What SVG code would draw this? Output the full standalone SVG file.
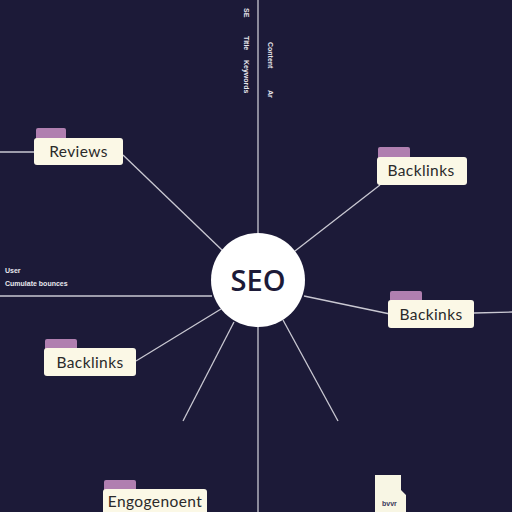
<svg xmlns="http://www.w3.org/2000/svg" width="512" height="512" viewBox="0 0 512 512">
<style>
.ln{stroke:#c9c8d2;stroke-width:1.3;fill:none}
.box{fill:#fbf8e6}
.tab{fill:#b07fb0}
.lbl{font-family:"Lato","Liberation Sans",sans-serif;font-size:15.5px;fill:#2a2a2a;text-anchor:middle;letter-spacing:0.4px}
.tiny{font-family:"Liberation Sans",sans-serif;font-size:7px;font-weight:bold;fill:#e8e8ee}
</style>
<rect width="512" height="512" fill="#1c1a38"/>
<g id="connectors">
<line class="ln" x1="258" y1="0" x2="258" y2="512"/>
<line class="ln" x1="0" y1="296" x2="212" y2="296"/>
<line class="ln" x1="0" y1="152" x2="34" y2="152"/>
<line class="ln" x1="123" y1="155" x2="223" y2="251"/>
<line class="ln" x1="380" y1="185" x2="295" y2="251"/>
<line class="ln" x1="304" y1="296" x2="390" y2="314"/>
<line class="ln" x1="474" y1="313" x2="512" y2="312"/>
<line class="ln" x1="136" y1="361" x2="221" y2="309"/>
<line class="ln" x1="183" y1="421" x2="234" y2="322"/>
<line class="ln" x1="338" y1="421" x2="283" y2="320"/>
</g>
<g id="top-notes">
<text class="tiny" transform="translate(244,8) rotate(90)">SE</text>
<text class="tiny" transform="translate(244,36) rotate(90)">Title</text>
<text class="tiny" transform="translate(244,60) rotate(90)">Keywords</text>
<text class="tiny" transform="translate(268,42) rotate(90)">Content</text>
<text class="tiny" transform="translate(268,90) rotate(90)">Ar</text>
</g>
<g id="user-note">
<text class="tiny" x="5" y="273" font-size="8">User</text>
<text class="tiny" x="5" y="286">Cumulate bounces</text>
</g>
<g id="seo">
<circle cx="258" cy="280" r="47" fill="#ffffff"/>
<text x="258" y="291" font-family="'Open Sans','Liberation Sans',sans-serif" font-size="29" font-weight="600" fill="#1c1a38" text-anchor="middle">SEO</text>
</g>
<g id="reviews">
<rect class="tab" x="36" y="128" width="30" height="13" rx="2"/>
<rect class="box" x="34" y="138" width="89" height="27" rx="3"/>
<text class="lbl" x="78.5" y="157">Reviews</text>
</g>
<g id="backlinks-top">
<rect class="tab" x="378" y="147" width="32" height="13" rx="2"/>
<rect class="box" x="377" y="157" width="90" height="28" rx="3"/>
<text class="lbl" x="421" y="176">Backlinks</text>
</g>
<g id="backinks-right">
<rect class="tab" x="390" y="291" width="32" height="13" rx="2"/>
<rect class="box" x="388" y="300" width="86" height="28" rx="3"/>
<text class="lbl" x="431" y="320">Backinks</text>
</g>
<g id="backlinks-left">
<rect class="tab" x="45" y="339" width="32" height="13" rx="2"/>
<rect class="box" x="44" y="348" width="92" height="28" rx="3"/>
<text class="lbl" x="90" y="368">Backlinks</text>
</g>
<g id="engagement">
<rect class="tab" x="104" y="480" width="32" height="13" rx="2"/>
<rect class="box" x="103" y="489" width="104" height="30" rx="3"/>
<text class="lbl" x="155" y="507">Engogenoent</text>
</g>
<g id="small-note">
<path d="M375 475 H401 V490 L406 495 V512 H375 Z" fill="#f8f6e4"/>
<text class="tiny" x="382" y="506" style="fill:#3a3a5a">bvvr</text>
</g>
</svg>
